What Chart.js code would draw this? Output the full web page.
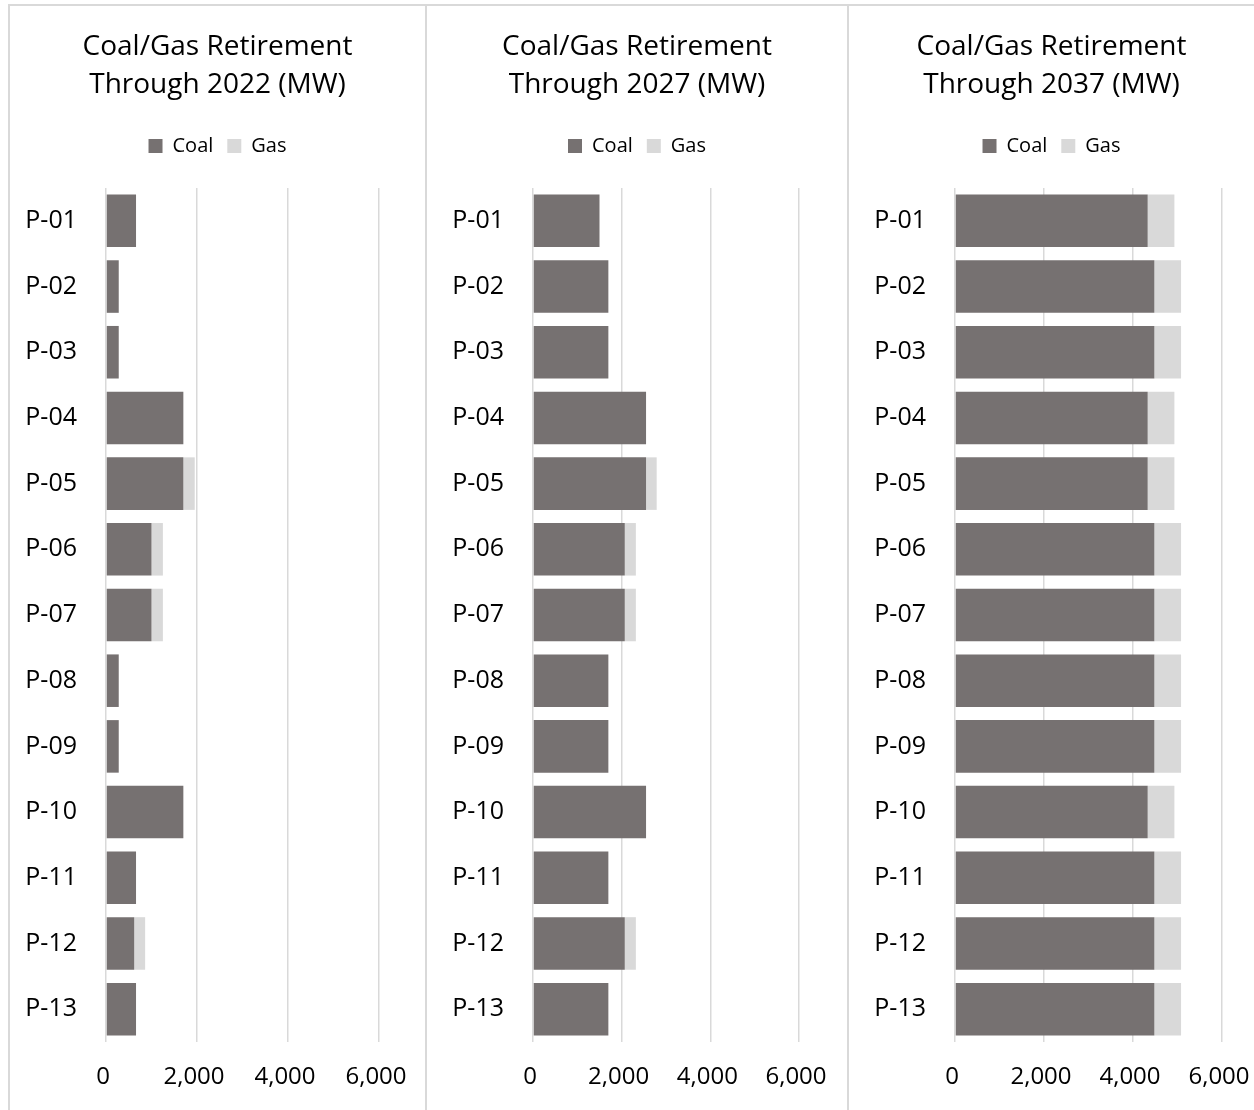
<!DOCTYPE html>
<html>
<head>
<meta charset="utf-8">
<script src="https://cdn.jsdelivr.net/npm/chart.js@4.4.1/dist/chart.umd.min.js"></script>
<style>
  html, body { margin: 0; padding: 0; background: #fff; }
  body { width: 1254px; height: 1110px; position: relative; overflow: hidden; }
  .line { position: absolute; background: #d9d9d9; }
  .panel { position: absolute; top: 6px; height: 1104px; }
</style>
</head>
<body>
<div class="line" style="left:8px; top:4px; width:1246px; height:2px;"></div>
<div class="line" style="left:8px; top:4px; width:2px; height:1106px;"></div>
<div class="line" style="left:425px; top:4px; width:2px; height:1106px;"></div>
<div class="line" style="left:847px; top:4px; width:2px; height:1106px;"></div>

<div class="panel" style="left:10px; width:415px;"><canvas id="chart-2022"></canvas></div>
<div class="panel" style="left:427px; width:420px;"><canvas id="chart-2027"></canvas></div>
<div class="panel" style="left:849px; width:405px;"><canvas id="chart-2037"></canvas></div>

<script>
// categories
const plants = ['P-01', 'P-02', 'P-03', 'P-04', 'P-05', 'P-06', 'P-07', 'P-08', 'P-09', 'P-10', 'P-11', 'P-12', 'P-13'];

// retirements through 2022 (MW)
const coal2022 = [660, 280, 280, 1700, 1700, 1000, 1000, 280, 280, 1700, 660, 620, 660];
const gas2022 = [0, 0, 0, 0, 250, 250, 250, 0, 0, 0, 0, 240, 0];

// retirements through 2027 (MW)
const coal2027 = [1500, 1700, 1700, 2550, 2550, 2070, 2070, 1700, 1700, 2550, 1700, 2070, 1700];
const gas2027 = [0, 0, 0, 0, 240, 250, 250, 0, 0, 0, 0, 250, 0];

// retirements through 2037 (MW)
const coal2037 = [4330, 4480, 4480, 4330, 4330, 4480, 4480, 4480, 4480, 4330, 4480, 4480, 4480];
const gas2037 = [600, 600, 600, 600, 600, 600, 600, 600, 600, 600, 600, 600, 600];

// x axis ticks
const xTicks = [0, 2000, 4000, 6000];

const FONT = "'Open Sans', 'DejaVu Sans', sans-serif";

// push the plot down a bit under the legend
const legendGap = {
    id: 'legendGap',
    afterInit(chart) {
        const legend = chart.legend;
        const fit = legend.fit.bind(legend);
        legend.fit = function () {
            fit();
            this.height += 22;
        };
    }
};

function makePanel(id, year, coal, gas, leftWidth, rightWidth) {
    const ctx = document.getElementById(id).getContext('2d');
    new Chart(ctx, {
        type: 'bar',
        data: {
            labels: plants,
            datasets: [
                { label: 'Coal', data: coal, backgroundColor: '#767171', borderWidth: 0 },
                { label: 'Gas', data: gas, backgroundColor: '#d9d9d9', borderWidth: 0 }
            ]
        },
        options: {
            indexAxis: 'y',
            responsive: true,
            maintainAspectRatio: false,
            animation: false,
            layout: { padding: { top: 2 } },
            datasets: { bar: { categoryPercentage: 1.0, barPercentage: 0.8 } },
            scales: {
                x: {
                    stacked: true,
                    min: 0,
                    max: 6000,
                    afterBuildTicks: scale => { scale.ticks = xTicks.map(v => ({ value: v })); },
                    grid: { color: '#d9d9d9', lineWidth: 1.5, drawTicks: false },
                    border: { display: false },
                    ticks: {
                        color: '#000',
                        font: { family: FONT, size: 24 },
                        padding: 21,
                        labelOffset: -3,
                        callback: v => v.toLocaleString('en-US')
                    },
                    // fixed height; the side spacers leave room for the end labels
                    afterFit: s => {
                        s.height = 68;
                        s.paddingLeft = 0;
                        s.paddingRight = 0;
                    }
                },
                y: {
                    stacked: true,
                    grid: { display: false, drawTicks: false },
                    border: { display: false },
                    ticks: {
                        color: '#000',
                        font: { family: FONT, size: 25 },
                        padding: 29
                    },
                    afterFit: s => { s.width = leftWidth; }
                },
                // empty spacer on the right so the plot ends where the original does
                spacer: {
                    type: 'linear',
                    position: 'right',
                    grid: { display: false },
                    border: { display: false },
                    ticks: { display: false },
                    afterFit: s => { s.width = rightWidth; }
                }
            },
            plugins: {
                title: {
                    display: true,
                    text: ['Coal/Gas Retirement', 'Through ' + year + ' (MW)'],
                    color: '#000',
                    font: { family: FONT, size: 28, weight: 'normal', lineHeight: 38 / 28 },
                    padding: { top: 20, bottom: 18 }
                },
                legend: {
                    display: true,
                    position: 'top',
                    labels: {
                        color: '#000',
                        font: { family: FONT, size: 20 },
                        boxWidth: 14,
                        boxHeight: 14,
                        padding: 14
                    }
                },
                tooltip: { enabled: false }
            }
        },
        plugins: [legendGap]
    });
}

makePanel('chart-2022', '2022', coal2022, gas2022, 96, 46);
makePanel('chart-2027', '2027', coal2027, gas2027, 106, 48);
makePanel('chart-2037', '2037', coal2037, gas2037, 106, 32);
</script>
</body>
</html>
